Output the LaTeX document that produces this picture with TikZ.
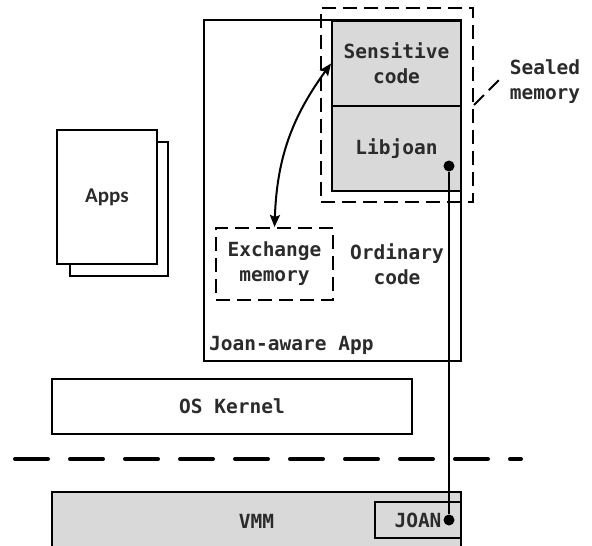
\documentclass[tikz,border=0pt]{standalone}
\usepackage{fontspec}
\setmonofont{DejaVu Sans Mono}
\newfontfamily\appsfont{Carlito}
\usetikzlibrary{arrows.meta}
\tikzset{>={Stealth[length=12pt,width=10pt,inset=2pt]}}
\definecolor{memGray}{HTML}{D9D9D9}
\definecolor{labelInk}{HTML}{2B2B2B}

\begin{document}
\begin{tikzpicture}[
    x = 1pt,
    y = -1pt,
    align = center,
    inner sep = 0pt,
    font = \ttfamily\bfseries\fontsize{19.5}{25}\selectfont,
    text = labelInk,
    plainbox/.style = {draw, line width = 2pt},
    graybox/.style = {plainbox, fill = memGray},
    sealedline/.style = {line width = 2pt, dash pattern = on 14pt off 7pt},
    dot/.style = {circle, fill = black, minimum size = 11pt}
  ]
    \clip (0, 0) rectangle (592, 546);
    % application layer
    \node[plainbox, fill = white, minimum width = 98pt, minimum height = 134pt] (apps_back) at (119, 209) {};
    \node[plainbox, fill = white, minimum width = 100pt, minimum height = 134pt, font = \appsfont\bfseries\fontsize{21}{25}\selectfont] (apps) at (107, 197) {Apps};
    \node[plainbox, minimum width = 257pt, minimum height = 341pt] (joan_app) at (332.5, 190.5) {};
    \node[graybox, minimum width = 129pt, minimum height = 85pt] (sensitive_code) at (396.5, 63.5) {Sensitive\\code};
    \node[graybox, minimum width = 129pt, minimum height = 85pt] (libjoan) at (396.5, 148.5) {Libjoan};
    \node[draw, sealedline, minimum width = 152pt, minimum height = 194pt] (sealed_memory) at (397, 105) {};
    \node[align = left] (sealed_label) at (545, 82) {Sealed\\memory};
    \coordinate (sealed_tip) at (499, 80);
    \node[draw, sealedline, minimum width = 117pt, minimum height = 72pt] (exchange_memory) at (274.5, 264) {Exchange\\memory};
    \node (ordinary_code) at (397, 264) {Ordinary\\code};
    \node[anchor = west] (joan_app_label) at (209, 345) {Joan-aware App};
    % kernel and hypervisor
    \node[plainbox, minimum width = 360pt, minimum height = 55pt] (os_kernel) at (232, 406.5) {OS Kernel};
    \coordinate (sep_left) at (15, 459);
    \coordinate (sep_right) at (521, 459);
    \node[graybox, minimum width = 409pt, minimum height = 58pt] (vmm) at (256.5, 521) {VMM};
    \node[plainbox, fill = memGray, minimum width = 86pt, minimum height = 36pt] (joan) at (418, 520) {JOAN};
    \node[dot] (libjoan_dot) at (449, 166) {};
    \node[dot] (joan_dot) at (449, 520) {};
    \draw[line width = 2pt] (libjoan_dot) -- (joan_dot);
    \draw[line width = 4pt, line cap = round, dash pattern = on 33pt off 22pt] (sep_left) -- (sep_right);
    \draw[sealedline] (sealed_memory.east) -- (sealed_tip);
    \draw[<->, line width = 2pt] (exchange_memory.north) to[bend left = 17] (sensitive_code.west);
  \end{tikzpicture}
\end{document}
